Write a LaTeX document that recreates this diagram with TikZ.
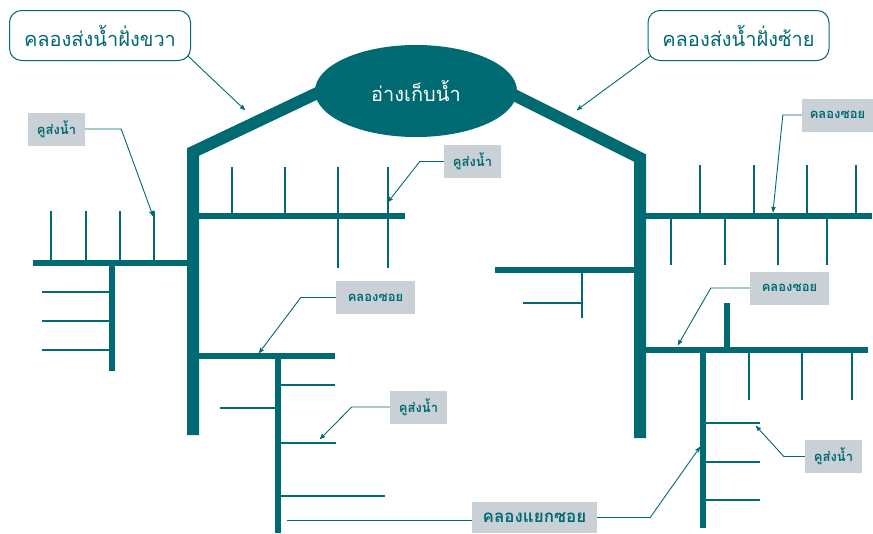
\documentclass[tikz,border=0pt]{standalone}
\usepackage{fontspec}
\newfontfamily\thaifont[Script=Thai]{Loma}
\usetikzlibrary{positioning, arrows, shapes.geometric}
\definecolor{canal}{RGB}{0,106,115}
\definecolor{boxgrey}{RGB}{201,209,214}

\begin{document}
\begin{tikzpicture}[x=1pt, y=-1pt, >=stealth', line join=miter,
	main/.style={canal, line width=12pt},
	sub/.style={canal, line width=6pt},
	ditch/.style={canal, line width=1.3pt},
	callout/.style={canal, line width=0.9pt},
	tag/.style={fill=boxgrey, text=canal, inner sep=0pt, minimum width=57pt, minimum height=33pt, font=\thaifont\bfseries\fontsize{13}{15}\selectfont},
	bank/.style={draw=canal, line width=1pt, fill=white, rounded corners=12pt, text=canal, minimum width=181pt, minimum height=50pt, font=\thaifont\fontsize{20}{24}\selectfont}]

	\useasboundingbox (0,0) rectangle (873,533);

	% main canals
	\draw[main] (330,87) -- (193,152) -- (193,435);
	\draw[main] (500,88) -- (640,158) -- (640,438);

	% right bank branches
	\draw[sub] (193,216) -- (405,216);
	\draw[sub] (33,263) -- (193,263);
	\draw[sub] (112,263) -- (112,371);
	\draw[sub] (193,355.5) -- (335,355.5);
	\draw[sub] (277.5,355.5) -- (277.5,533);
	\foreach \x in {232,285} \draw[ditch] (\x,167) -- (\x,216);
	\foreach \x in {338,388} \draw[ditch] (\x,167) -- (\x,268);
	\foreach \x in {51,86,120,154} \draw[ditch] (\x,211) -- (\x,263);
	\foreach \y in {292,321,350} \draw[ditch] (42,\y) -- (112,\y);
	\draw[ditch] (277,385) -- (335,385);
	\draw[ditch] (277,443) -- (336,443);
	\draw[ditch] (277,496) -- (385,496);
	\draw[ditch] (220,408) -- (277,408);

	% left bank branches
	\draw[sub] (646,215.5) -- (872,215.5);
	\draw[sub] (495,270) -- (640,270);
	\draw[sub] (646,350) -- (868,350);
	\draw[sub] (727,303) -- (727,350);
	\draw[sub] (703,350) -- (703,528);
	\foreach \x in {700,754,807,856} \draw[ditch] (\x,165) -- (\x,215);
	\foreach \x in {671,725,778,827} \draw[ditch] (\x,215) -- (\x,265);
	\draw[ditch] (582,270) -- (582,318);
	\draw[ditch] (523,303) -- (582,303);
	\foreach \x in {749,802,852} \draw[ditch] (\x,350) -- (\x,400);
	\foreach \y in {423,462,500} \draw[ditch] (703,\y) -- (760,\y);

	\node (res) [ellipse, fill=canal, minimum width=202pt, minimum height=92pt, text=white, font=\thaifont\fontsize{20}{24}\selectfont] at (416,91) {อ่างเก็บน้ำ};

	\node (rb) [bank] at (100,35.5) {คลองส่งน้ำฝั่งขวา};
	\node (lb) [bank] at (738.5,35.5) {คลองส่งน้ำฝั่งซ้าย};

	\node (d1) [tag] at (56.5,129) {คูส่งน้ำ};
	\node (d2) [tag] at (472.5,161.5) {คูส่งน้ำ};
	\node (c1) [tag, minimum width=71pt] at (837.5,115) {คลองซอย};
	\node (c2) [tag, minimum width=79pt] at (375.5,297.5) {คลองซอย};
	\node (d3) [tag] at (418.5,407) {คูส่งน้ำ};
	\node (c3) [tag, minimum width=79pt] at (789.5,288) {คลองซอย};
	\node (d4) [tag] at (833.5,456.5) {คูส่งน้ำ};
	\node (s1) [tag, minimum width=125pt, minimum height=31pt, font=\thaifont\bfseries\fontsize{17}{20}\selectfont] at (534.5,517.5) {คลองแยกซอย};

	\coordinate (rbt) at (245,110);
	\coordinate (lbt) at (577,110);
	\coordinate (d1t) at (153,216);
	\coordinate (d2t) at (388,202);
	\coordinate (c1t) at (773,212);
	\coordinate (c2t) at (259,353);
	\coordinate (d3t) at (320,439);
	\coordinate (c3t) at (678,345);
	\coordinate (d4t) at (756,426);
	\coordinate (s1t) at (700,447);
	\coordinate (s1l) at (287,520);

	\draw[callout, ->] (rb.south east) ++(-3,-5) -- (rbt);
	\draw[callout, ->] (lb.south west) ++(3,-5) -- (lbt);
	\draw[callout, ->] (d1.east) -- ++(36,0) -- (d1t);
	\draw[callout, ->] (d2.west) -- ++(-24,0) -- (d2t);
	\draw[callout, ->] (c1.west) -- ++(-19,0) -- (c1t);
	\draw[callout, ->] (c2.west) -- ++(-35,0) -- (c2t);
	\draw[callout, ->] (d3.west) -- ++(-38,0) -- (d3t);
	\draw[callout, ->] (c3.west) -- ++(-39,0) -- (c3t);
	\draw[callout, ->] (d4.west) -- ++(-21,0) -- (d4t);
	\draw[callout, ->] (s1.east) -- ++(53,0) -- (s1t);
	\draw[callout] (s1.west) ++(0,2.5) -- (s1l);

\end{tikzpicture}
\end{document}
